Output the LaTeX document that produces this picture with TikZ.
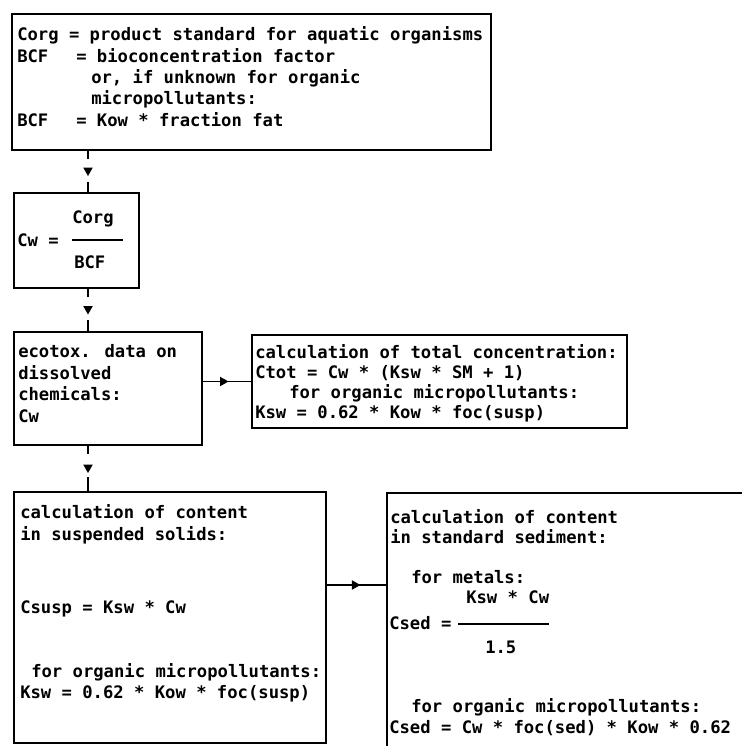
\documentclass[tikz,border=0pt]{standalone}
\usepackage{fontspec}
\newfontfamily\monofont{DejaVu Sans Mono}
\usetikzlibrary{decorations.markings}
\newcommand\tfont{\monofont\bfseries\fontsize{12.9pt}{16pt}\selectfont}
\tikzset{
  box/.style={draw, line width=1.1pt, anchor=north west, inner sep=0pt, outer sep=0pt},
  txt/.style={anchor=base west, inner sep=0pt, font=\tfont},
  conn/.style={line width=1.1pt},
  midtri/.style={postaction={decorate},
    decoration={markings, mark=at position #1 with
      {\fill[solid] (4.5,0) -- (-4,4.8) -- (-4,-4.8) -- cycle;}}},
  gapped/.style={dash pattern=on 7pt off 17pt on 80pt},
}
\begin{document}
\begin{tikzpicture}[x=0.75pt, y=-0.75pt]
\useasboundingbox (0,0) rectangle (742,746);
\fill[white] (0,0) rectangle (742,746);

% guide lines for the connectors
\coordinate (spine) at (88,0);
\coordinate (row4) at (0,585);

% definitions box
\node[box, line width=2.2pt, minimum width=359.25pt, minimum height=102pt] (defs) at (12,14) {};
\node[txt] (d1) at (17,40) {Corg = product standard for aquatic organisms};
\node[txt] (d2a) at (17,62) {BCF};
\node[txt] (d2b) at (76,62) {= bioconcentration factor};
\node[txt] (d3) at (91,83) {or, if unknown for organic};
\node[txt] (d4) at (91,104) {micropollutants:};
\node[txt] (d5a) at (17,126) {BCF};
\node[txt] (d5b) at (76,126) {= Kow * fraction fat};

% Cw from product standard
\node[box, minimum width=93.75pt, minimum height=71.25pt] (cwbox) at (14,193) {};
\node[txt] (cwl) at (17,246) {Cw =};
\node[txt] (cwn) at (72,223) {Corg};
\node[txt] (cwd) at (74,268) {BCF};
\draw[line width=1.1pt] (72,240) -- (123,240);

% ecotox data
\node[box, minimum width=141pt, minimum height=84.75pt] (eco) at (14,332) {};
\node[txt] (e1) at (18,357) {ecotox. data on};
\node[txt] (e2) at (18,379) {dissolved};
\node[txt] (e3) at (18,400) {chemicals:};
\node[txt] (e4) at (18,422) {Cw};

% total concentration
\node[box, minimum width=281.25pt, minimum height=69.75pt] (tot) at (252,335) {};
\node[txt] (t1) at (255,358) {calculation of total concentration:};
\node[txt] (t2) at (255,378) {Ctot = Cw * (Ksw * SM + 1)};
\node[txt] (t3) at (289,398) {for organic micropollutants:};
\node[txt] (t4) at (255,418) {Ksw = 0.62 * Kow * foc(susp)};

% suspended solids
\node[box, minimum width=234pt, minimum height=188.25pt] (susp) at (14,492) {};
\node[txt] (s1) at (20,518) {calculation of content};
\node[txt] (s2) at (20,540) {in suspended solids:};
\node[txt] (s3) at (20,613) {Csusp = Ksw * Cw};
\node[txt] (s4) at (31,677) {for organic micropollutants:};
\node[txt] (s5) at (20,698) {Ksw = 0.62 * Kow * foc(susp)};

% standard sediment (runs past the page edge)
\begin{scope}
\clip (0,0) rectangle (742,746);
\node[box, minimum width=300pt, minimum height=225pt] (sed) at (387,493) {};
\end{scope}
\node[txt] (r1) at (390,523) {calculation of content};
\node[txt] (r2) at (390,543) {in standard sediment:};
\node[txt] (r3) at (411,583) {for metals:};
\node[txt] (r4) at (466,603) {Ksw * Cw};
\node[txt] (r5) at (389,629) {Csed =};
\draw[line width=1.1pt] (458,624) -- (549,624);
\node[txt] (r6) at (485,653) {1.5};
\node[txt] (r7) at (411,712) {for organic micropollutants:};
\node[txt] (r8) at (389,733) {Csed = Cw * foc(sed) * Kow * 0.62};

% connectors
\draw[conn, gapped, midtri=0.5] (defs.south -| spine) -- (cwbox.north -| spine);
\draw[conn, gapped, midtri=0.5] (cwbox.south -| spine) -- (eco.north -| spine);
\draw[conn, gapped, midtri=0.5] (eco.south -| spine) -- (susp.north -| spine);
\draw[conn, midtri=0.44] (eco.east |- tot.west) -- (tot.west);
\draw[conn, midtri=0.49] (susp.east |- row4) -- (sed.west |- row4);
\end{tikzpicture}
\end{document}
